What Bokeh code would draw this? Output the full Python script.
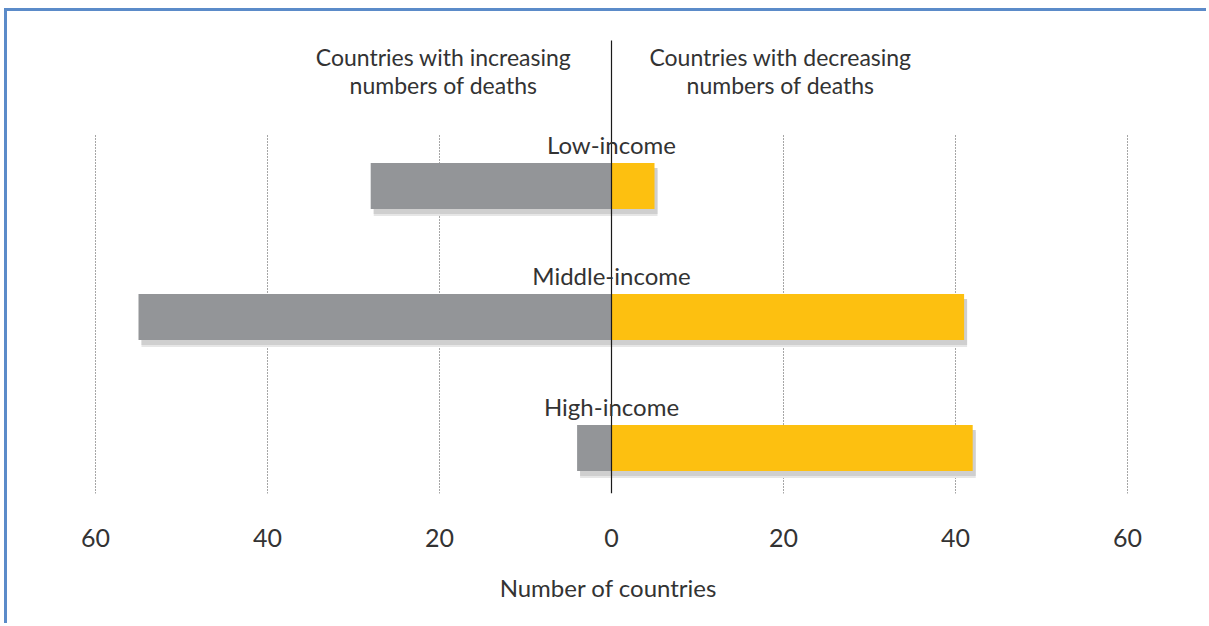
from bokeh.plotting import figure
from bokeh.models import Range1d, LinearAxis, FixedTicker, ColumnDataSource
from bokeh.core.properties import value
from bokeh.embed import file_html
from bokeh.resources import INLINE

# ---- data ----
categories = ["Low-income", "Middle-income", "High-income"]
increasing = [28, 55, 4]      # countries with increasing numbers of deaths
decreasing = [5, 41, 42]      # countries with decreasing numbers of deaths
tick_values = [-60, -40, -20, 0, 20, 40, 60]
tick_labels = ["60", "40", "20", "0", "20", "40", "60"]
header_left = ["Countries with increasing", "numbers of deaths"]
header_right = ["Countries with decreasing", "numbers of deaths"]
axis_title = "Number of countries"

# ---- style ----
FONT = "Lato"
TEXT = "#333333"
GREY = "#939598"
YELLOW = "#fdc010"
BLUE = "#5b8bc9"

PX = 8.6            # pixels per country
ZERO_PX = 611       # page x of zero
CANVAS_X0 = 7
CANVAS_Y0 = 11
ROW_PX = 131        # pixels between rows
LOW_PX = 185.5      # page y of the top row centre
FRAME_BOTTOM = 493

W = 1209 - CANVAS_X0
H = 626 - CANVAS_Y0

ypos = [len(categories) - i for i in range(len(categories))]   # 3, 2, 1
BAR_H = 46 / ROW_PX


def ydata(page_y):
    return ypos[0] + (LOW_PX - page_y) / ROW_PX


x_start = -(ZERO_PX - CANVAS_X0) / PX
x_end = (CANVAS_X0 + W - ZERO_PX) / PX
y_end = ydata(CANVAS_Y0)
y_start = ydata(FRAME_BOTTOM)

p = figure(width=W, height=H, output_backend="svg", toolbar_location=None,
           x_range=Range1d(x_start, x_end), y_range=Range1d(y_start, y_end),
           x_axis_location=None, y_axis_location=None,
           min_border_left=0, min_border_right=0, min_border_top=0,
           min_border_bottom=626 - FRAME_BOTTOM)
p.outline_line_color = None
p.xgrid.visible = False
p.ygrid.visible = False
p.background_fill_color = "white"
p.border_fill_color = "white"
p.styles = {"border-top": f"3px solid {BLUE}", "border-left": f"3px solid {BLUE}",
            "margin-top": "8px", "margin-left": "4px"}

# dotted gridlines
grid_ticks = [t for t in tick_values if t != 0]
p.segment(x0=grid_ticks, x1=grid_ticks,
          y0=[y_start] * len(grid_ticks), y1=[ydata(135)] * len(grid_ticks),
          line_color="#4d4d4d", line_width=1, line_dash="1 2")

src = ColumnDataSource(dict(
    y=ypos,
    neg=[-v for v in increasing],
    pos=decreasing,
    sneg=[-v + 3 / PX for v in increasing],
    spos=[v + 3 / PX for v in decreasing],
    sy=[y - 5 / ROW_PX for y in ypos],
    sy2=[y - 7 / ROW_PX for y in ypos],
    label=categories,
    ly=[y + BAR_H / 2 + 19 / ROW_PX for y in ypos],
))

# soft drop shadow
p.hbar(y="sy2", left="sneg", right="spos", height=BAR_H, source=src,
       fill_color="#e6e6e6", line_color=None)
p.hbar(y="sy", left="sneg", right="spos", height=BAR_H, source=src,
       fill_color="#cfcfcf", line_color=None)

# bars
p.hbar(y="y", left="neg", right=0, height=BAR_H, source=src,
       fill_color=GREY, line_color=None)
p.hbar(y="y", left=0, right="pos", height=BAR_H, source=src,
       fill_color=YELLOW, line_color=None)

# zero line
p.segment(x0=[0], x1=[0], y0=[y_start], y1=[ydata(40)], line_color="#1a1a1a", line_width=1.2)

# category labels
p.text(x=0, y="ly", text="label", source=src, text_font=value(FONT),
       text_font_size="24px", text_align="center", text_baseline="alphabetic",
       text_color=TEXT)

# headers
hx_left = -(ZERO_PX - 443) / PX
hx_right = (780 - ZERO_PX) / PX
for lines, hx in ((header_left, hx_left), (header_right, hx_right)):
    p.text(x=[hx, hx], y=[ydata(56), ydata(84)], text=lines, text_font=value(FONT),
           text_font_size="23px", text_align="center", text_baseline="alphabetic",
           text_color=TEXT)

# axis
ax = LinearAxis(ticker=FixedTicker(ticks=tick_values),
                major_label_overrides={v: l for v, l in zip(tick_values, tick_labels)})
ax.axis_line_color = None
ax.major_tick_line_color = None
ax.minor_tick_line_color = None
ax.major_tick_out = 0
ax.major_label_standoff = 35
ax.major_label_text_font = FONT
ax.major_label_text_font_size = "25px"
ax.major_label_text_color = TEXT
ax.axis_label = axis_title
ax.axis_label_text_font = FONT
ax.axis_label_text_font_size = "24px"
ax.axis_label_text_font_style = "normal"
ax.axis_label_text_color = TEXT
ax.axis_label_standoff = 23
p.add_layout(ax, "below")

open("out.html", "w").write(file_html(p, INLINE))
